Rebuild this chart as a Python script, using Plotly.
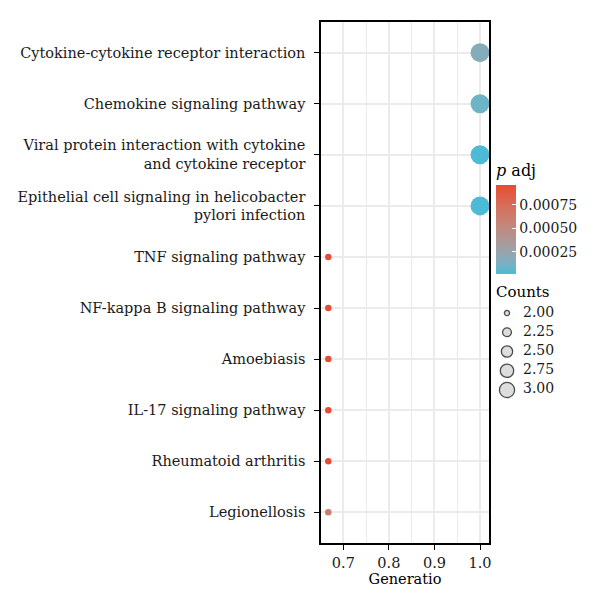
import numpy as np
import plotly.graph_objects as go

# ---------------- data ----------------
pathways = [
    "Cytokine-cytokine receptor interaction",
    "Chemokine signaling pathway",
    "Viral protein interaction with cytokine<br>and cytokine receptor",
    "Epithelial cell signaling in helicobacter<br>pylori infection",
    "TNF signaling pathway",
    "NF-kappa B signaling pathway",
    "Amoebiasis",
    "IL-17 signaling pathway",
    "Rheumatoid arthritis",
    "Legionellosis",
]
generatio = [1.0, 1.0, 1.0, 1.0, 0.667, 0.667, 0.667, 0.667, 0.667, 0.667]
counts = [3, 3, 3, 3, 2, 2, 2, 2, 2, 2]
padj = [0.00017, 0.00009, 0.000013, 0.000013, 0.00096, 0.00096, 0.00096,
        0.00096, 0.00096, 0.00062]

x_ticks = [0.7, 0.8, 0.9, 1.0]
x_ticktext = ["0.7", "0.8", "0.9", "1.0"]
cb_ticks = [0.00025, 0.00050, 0.00075]
cb_ticktext = ["0.00025", "0.00050", "0.00075"]
legend_counts = [2.00, 2.25, 2.50, 2.75, 3.00]
legend_text = ["2.00", "2.25", "2.50", "2.75", "3.00"]

# ---------------- styling helpers ----------------
LOW, HIGH = "#4DBBD5", "#E64B35"
FONT = "DejaVu Serif"
W, H = 600, 611


def _hex2rgb(h):
    h = h.lstrip("#")
    return np.array([int(h[i:i + 2], 16) for i in (0, 2, 4)]) / 255.0


def _srgb2lin(c):
    return np.where(c <= 0.04045, c / 12.92, ((c + 0.055) / 1.055) ** 2.4)


def _lin2srgb(c):
    c = np.clip(c, 0, 1)
    return np.where(c <= 0.0031308, c * 12.92, 1.055 * c ** (1 / 2.4) - 0.055)


M = np.array([[0.4124, 0.3576, 0.1805], [0.2126, 0.7152, 0.0722], [0.0193, 0.1192, 0.9505]])
WP = np.array([0.95047, 1.0, 1.08883])


def _rgb2lab(rgb):
    xyz = M @ _srgb2lin(rgb) / WP
    f = np.where(xyz > 0.008856, np.cbrt(xyz), 7.787 * xyz + 16 / 116)
    return np.array([116 * f[1] - 16, 500 * (f[0] - f[1]), 200 * (f[1] - f[2])])


def _lab2rgb(lab):
    fy = (lab[0] + 16) / 116
    fx = fy + lab[1] / 500
    fz = fy - lab[2] / 200
    f = np.array([fx, fy, fz])
    xyz = np.where(f ** 3 > 0.008856, f ** 3, (f - 16 / 116) / 7.787) * WP
    return _lin2srgb(np.linalg.inv(M) @ xyz)


def lab_scale(c0, c1, n=11):
    l0, l1 = _rgb2lab(_hex2rgb(c0)), _rgb2lab(_hex2rgb(c1))
    out = []
    for t in np.linspace(0, 1, n):
        r = _lab2rgb(l0 + (l1 - l0) * t)
        out.append([float(t), "rgb(%d,%d,%d)" % tuple((r * 255).round().astype(int))])
    return out


CSCALE = lab_scale(LOW, HIGH)


def size_px(c, d_min=6.5, d_max=19.0, c_min=2, c_max=3):
    # area-proportional scaling like ggplot2 scale_size
    t = (np.asarray(c, float) - c_min) / (c_max - c_min)
    return np.sqrt(d_min ** 2 + t * (d_max ** 2 - d_min ** 2))


# plot panel in pixels
PL, PR, PT, PB = 321, 489, 22, 543

fig = go.Figure()

fig.add_trace(go.Scatter(
    x=generatio, y=pathways, mode="markers",
    marker=dict(size=size_px(counts), color=padj, colorscale=CSCALE,
                cmin=min(padj), cmax=max(padj), line=dict(width=0), opacity=1,
                colorbar=dict(
                    x=496 / W, xanchor="left", y=1 - 161 / H, yanchor="top",
                    len=113, lenmode="pixels", thickness=20, thicknessmode="pixels",
                    outlinewidth=0, tickvals=cb_ticks, ticktext=cb_ticktext,
                    ticks="inside", ticklen=4, tickcolor="white", tickwidth=1,
                    tickfont=dict(family=FONT, size=14, color="#1a1a1a"),
                    title=dict(text="<i>p</i> adj", side="top",
                               font=dict(family=FONT, size=16, color="black")),
                    xpad=0, ypad=0,
                )),
    cliponaxis=False, showlegend=False, hoverinfo="x+y",
))

# size legend (drawn on its own hidden axes)
fig.add_trace(go.Scatter(
    x=[0] * len(legend_counts), y=legend_counts, mode="markers",
    marker=dict(size=size_px(legend_counts) * 0.8, color="#cfcfcf",
                line=dict(color="black", width=1.3)),
    xaxis="x2", yaxis="y2", showlegend=False, hoverinfo="skip", cliponaxis=False,
))
fig.add_trace(go.Scatter(
    x=[1.0] * len(legend_counts), y=legend_counts, mode="text",
    text=legend_text, textposition="middle right",
    textfont=dict(family=FONT, size=14, color="#1a1a1a"),
    xaxis="x2", yaxis="y2", showlegend=False, hoverinfo="skip", cliponaxis=False,
))

fig.add_annotation(text="Counts", xref="paper", yref="paper", x=494 / W, y=1 - 292 / H,
                   xanchor="left", yanchor="middle", showarrow=False,
                   font=dict(family=FONT, size=15, color="black"))

fig.update_layout(
    width=W, height=H, margin=dict(l=0, r=0, t=0, b=0),
    paper_bgcolor="white", plot_bgcolor="rgba(0,0,0,0)",
    font=dict(family=FONT, size=13, color="#1a1a1a"),
    xaxis=dict(
        domain=[PL / W, PR / W], range=[0.651, 1.0197],
        tickmode="array", tickvals=x_ticks, ticktext=x_ticktext,
        showgrid=True, gridcolor="#ebebeb", gridwidth=1.6,
        minor=dict(tickmode="array", tickvals=[0.65, 0.75, 0.85, 0.95],
                   showgrid=True, gridcolor="#ebebeb", gridwidth=1.2, ticks=""),
        showline=True, linecolor="black", linewidth=1.5, mirror=True,
        ticks="outside", ticklen=5, tickwidth=1.3, tickcolor="black",
        tickfont=dict(family=FONT, size=14.5, color="#1a1a1a"),
        ticklabelstandoff=1,
        title=dict(text="Generatio", font=dict(family=FONT, size=14.5, color="black"), standoff=2),
        zeroline=False, automargin=False, anchor="y",
    ),
    yaxis=dict(
        domain=[1 - PB / H, 1 - PT / H],
        type="category", categoryorder="array", categoryarray=pathways,
        range=[len(pathways) - 1 + 0.6, -0.6],
        showgrid=True, gridcolor="#ebebeb", gridwidth=1.6,
        showline=True, linecolor="black", linewidth=1.5, mirror=True,
        ticks="outside", ticklen=5, tickwidth=1.3, tickcolor="black",
        tickfont=dict(family=FONT, size=14.5, color="#1a1a1a"),
        ticklabelstandoff=6,
        zeroline=False, automargin=False, anchor="x",
    ),
    xaxis2=dict(domain=[491 / W, 523 / W], range=[-1, 1], visible=False,
                anchor="y2", fixedrange=True),
    yaxis2=dict(domain=[1 - 400 / H, 1 - 303 / H], range=[3.13, 1.87], visible=False,
                anchor="x2", fixedrange=True),
)

fig.write_html("out.html")
